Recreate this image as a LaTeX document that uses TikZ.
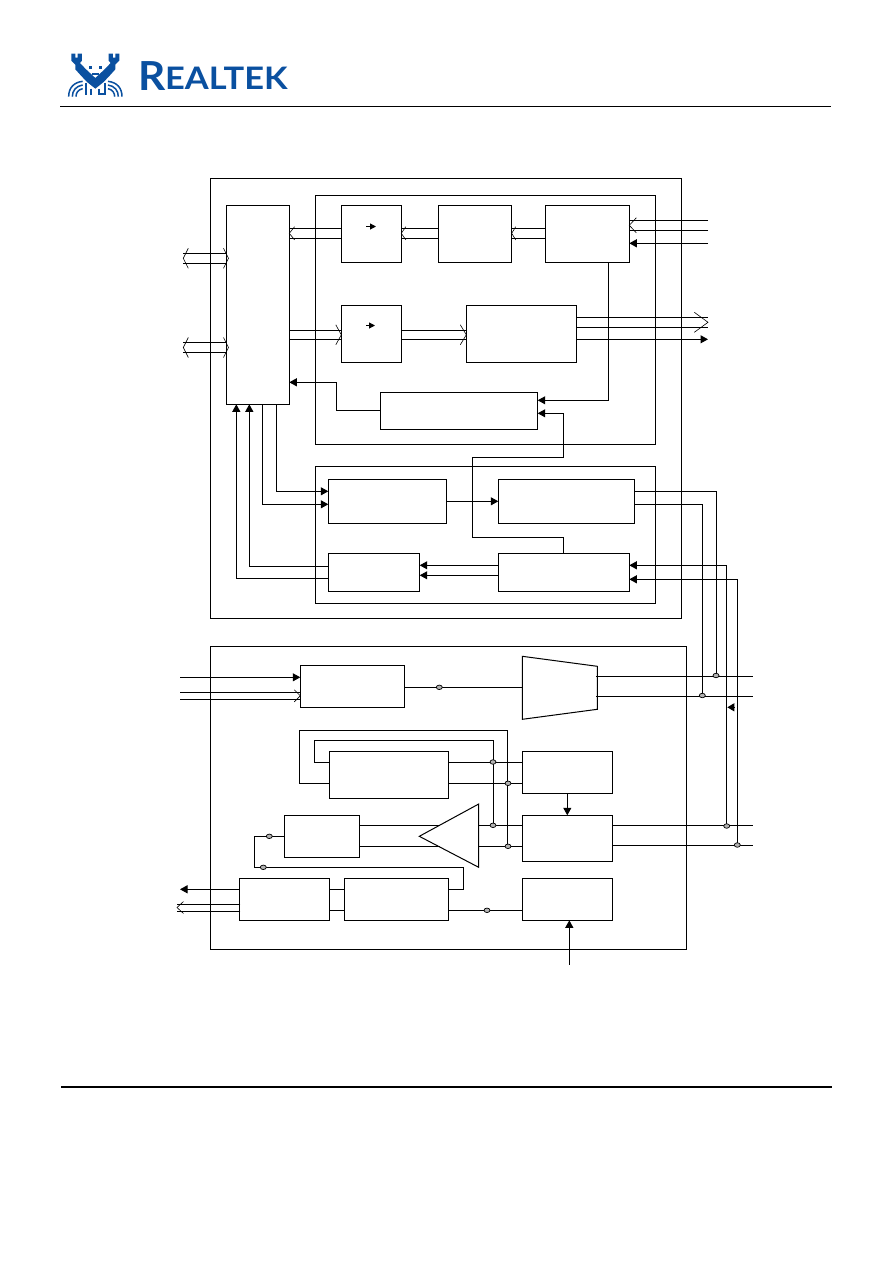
\documentclass[tikz,border=0pt]{standalone}
\usepackage{fontspec}
\setmainfont{Lato}
\usetikzlibrary{arrows.meta,shapes.geometric}
\definecolor{rtblue}{HTML}{0A50A0}
\tikzset{
  x=1pt,y=-1pt,
  blk/.style={draw=black,line width=1pt,inner sep=0,outer sep=0,rectangle},
  wire/.style={draw=black,line width=1pt},
  farrow/.style={wire,-{Triangle[length=7.5pt,width=8pt]}},
  chev/.style={draw=black,line width=.6pt},
  jn/.style={draw=black,line width=.7pt,fill=black!30,ellipse,inner sep=0,outer sep=0,minimum width=6pt,minimum height=4.5pt},
  logo/.style={rtblue,line width=1.5pt},
}
\newcommand\bx[5]{\node[blk,minimum width={(#4-#2)*1pt},minimum height={(#5-#3)*1pt}] (#1) at ({(#2+#4)/2},{(#3+#5)/2}) {};}
\newcommand\chv[4]{\draw[chev] ({#1+#3},{#2-#4}) -- (#1,#2) -- ({#1+#3},{#2+#4});}
\newcommand\jd[3]{\node[jn] (#1) at (#2,#3) {};}
\begin{document}
\begin{tikzpicture}
\fill[white] (0,0) rectangle (892,1263);
\useasboundingbox (0,0) rectangle (892,1263);
% header & footer
\coordinate (hl) at (60,106.5); \coordinate (hr) at (831,106.5);
\draw[black,line width=1pt] (hl) -- (hr);
\coordinate (fl) at (61,1087); \coordinate (fr) at (832,1087);
\draw[black,line width=1.8pt] (fl) -- (fr);
% logo
\begin{scope}[shift={(62,48)},x=.3333pt,y=-.3333pt]
\fill[rtblue] (28,17)--(40,17)--(40,29)--(47,29)--(47,17)--(60,17)--(60,38)--(54,45)--(70,62)--(100,90)--(130,62)--(146,45)--(140,38)--(140,17)--(153,17)--(153,29)--(160,29)--(160,17)--(172,17)--(172,38)--(160,50)--(160,64)--(142,84)--(125,102)--(100,122)--(75,102)--(58,84)--(40,64)--(40,50)--(28,38)--cycle;
\fill[rtblue] (82,54) rectangle (91,63); \fill[rtblue] (110,54) rectangle (119,63);
\draw[rtblue,line width=1.6pt] (90,78)--(110,78);
\draw[rtblue,line width=2.2pt] (72,104)--(72,142) (88,122)--(88,142) (128,104)--(128,142) (112,122)--(112,138)--(127,138);
\draw[logo] (20,146) .. controls (20,120) and (35,103) .. (62,100);
\draw[logo] (31,146) .. controls (31,128) and (42,114) .. (62,111);
\draw[logo] (42,146) .. controls (42,135) and (48,125) .. (62,122);
\draw[logo] (180,146) .. controls (180,120) and (165,103) .. (138,100);
\draw[logo] (169,146) .. controls (169,128) and (158,114) .. (138,111);
\draw[logo] (158,146) .. controls (158,135) and (152,125) .. (138,122);
\end{scope}
\node[anchor=base west,inner sep=0,text=rtblue,font=\fontsize{40}{40}\selectfont\bfseries] (lr) at (138,90.5) {\scalebox{1.06}[1]{R}};
\node[anchor=base west,inner sep=0,text=rtblue,font=\fontsize{31}{31}\selectfont\bfseries] (lt) at (165,89.5) {\scalebox{1.11}[1]{EALTEK}};
% containers
\bx{top}{210.3}{178.3}{681.3}{618.3}
\bx{ia}{315.3}{195.3}{655.3}{444.3}
\bx{ib}{315.3}{466.3}{655.3}{603.3}
\bx{bot}{210.3}{646.3}{686.3}{949.3}
% top blocks
\bx{tall}{226.3}{205.3}{289.3}{404.3}
\bx{b1}{341.3}{205.3}{401.3}{262.3}
\bx{b2}{438.3}{205.3}{511.7}{262.3}
\bx{b3}{545.3}{205.3}{629.3}{262.3}
\bx{b4}{341.3}{305.3}{401.3}{362.3}
\bx{b5}{466.3}{305.3}{576.7}{362.3}
\bx{b6}{380.3}{392.3}{537.7}{429.3}
\bx{b7}{328.3}{479.3}{446.7}{523.3}
\bx{b8}{498.3}{479.3}{634.3}{523.3}
\bx{b9}{328.3}{553.3}{419.7}{591.3}
\bx{b10}{498.3}{553.3}{629.3}{591.3}
% hollow buses, top
\foreach \y in {228.3,238.3}{
  \draw[wire] (tall.east |- 0,\y) -- (b1.west |- 0,\y);
  \draw[wire] (b1.east |- 0,\y) -- (b2.west |- 0,\y);
  \draw[wire] (b2.east |- 0,\y) -- (b3.west |- 0,\y);
}
\chv{289.3}{233.3}{5.3}{6.6}\chv{401.3}{233.3}{4.5}{6.6}\chv{511.7}{233.3}{4}{6.6}
\coordinate (xa) at (183.3,0);
\foreach \y in {253.3,263.3,342.3,352.7}{ \draw[wire] (xa |- 0,\y) -- (tall.west |- 0,\y); }
\chv{183.3}{258.3}{5}{10}\chv{228.5}{258.3}{-5}{10}
\chv{183.3}{347.5}{5}{10}\chv{228.5}{347.5}{-5}{10}
\foreach \y in {330.3,339.3}{
  \draw[wire] (tall.east |- 0,\y) -- (b4.west |- 0,\y);
  \draw[wire] (b4.east |- 0,\y) -- (b5.west |- 0,\y);
}
\chv{341.3}{334.8}{-5.5}{10}\chv{466.3}{334.8}{-6}{10}
% inner small arrows
\coordinate (s1a) at (366,226.5); \coordinate (s1b) at (376,226.5);
\coordinate (s2a) at (366,325.5); \coordinate (s2b) at (375,325.5);
\draw[wire,-{Triangle[length=6pt,width=6pt]}] (s1a) -- (s1b);
\draw[wire,-{Triangle[length=6pt,width=6pt]}] (s2a) -- (s2b);
% b3 inputs
\coordinate (xb) at (708,0);
\foreach \y in {220.3,230.3}{ \draw[wire] (xb |- 0,\y) -- (b3.east |- 0,\y); }
\chv{629.3}{225.3}{7}{7.5}
\draw[farrow] (xb |- 0,243.3) -- (b3.east |- 0,243.3);
% b5 outputs
\foreach \y in {317.3,327.3}{ \draw[wire] (b5.east |- 0,\y) -- (xb |- 0,\y); }
\chv{708}{322.3}{-13.7}{10}
\draw[farrow] (b5.east |- 0,339.3) -- (xb |- 0,339.3);
% control
\draw[farrow] (b6.west |- 0,410.3) -- (336.7,410.3) |- (tall.east |- 0,382.3);
\draw[farrow] (b3.south -| 608.3,0) |- (b6.east |- 0,400.3);
\draw[farrow] (b10.north -| 563.3,0) -- (563.3,537.3) -| (472.3,457.3) -| (563.3,413.3) -- (b6.east |- 0,413.3);
% tall to lower block
\draw[farrow] (b9.west |- 0,578.3) -| (tall.south -| 236.3,0);
\draw[farrow] (b9.west |- 0,566.3) -| (tall.south -| 249.3,0);
\draw[farrow] (tall.south -| 262.3,0) |- (b7.west |- 0,504.3);
\draw[farrow] (tall.south -| 276.3,0) |- (b7.west |- 0,491.3);
\draw[farrow] (b7.east |- 0,501.3) -- (b8.west |- 0,501.3);
\draw[farrow] (b10.west |- 0,565.3) -- (b9.east |- 0,565.3);
\draw[farrow] (b10.west |- 0,575.3) -- (b9.east |- 0,575.3);
% bottom blocks
\bx{ca}{300.3}{665.3}{404.3}{707.3}
\coordinate (mxa) at (522.3,687.3);
\draw[wire] (522.3,656.3) -- (597.3,666.3) -- (597.3,709.3) -- (522.3,719.3) -- cycle;
\bx{cb}{329.3}{751.3}{448.3}{798.3}
\bx{cc}{522.3}{751.3}{612.7}{793.3}
\bx{cd}{522.3}{815.3}{612.7}{861.3}
\bx{ce}{284.3}{815.3}{359.3}{857.3}
\bx{cf}{239.3}{878.3}{329.3}{920.3}
\bx{cg}{344.3}{878.3}{448.3}{920.3}
\bx{ch}{522.3}{878.3}{612.7}{920.3}
\draw[wire] (478.7,804) -- (419.3,836.3) -- (478.7,867.3) -- cycle;
\coordinate (tri1) at (439.5,825.3); \coordinate (tri2) at (439.5,846.3);
\coordinate (trir1) at (478.7,825.3); \coordinate (trir2) at (478.7,846.3);
\coordinate (mxr) at (596,0); \coordinate (xc) at (753,0);
% box A in/out
\coordinate (xd) at (180,0);
\draw[farrow] (xd |- 0,677.3) -- (ca.west |- 0,677.3);
\foreach \y in {692.3,699.3}{ \draw[wire] (xd |- 0,\y) -- (ca.west |- 0,\y); }
\chv{300.3}{695.8}{-6}{6}
\draw[wire] (ca.east |- 0,687.3) -- (mxa);
% mux out
\draw[wire] (mxr |- 0,676.3) -- (xc |- 0,676.3);
\draw[wire] (mxr |- 0,696.3) -- (xc |- 0,696.3);
% right-hand verticals
\draw[wire] (b8.east |- 0,491.3) -| (716.7,675.5);
\draw[wire] (b8.east |- 0,504.3) -| (702.3,695.5);
\draw[farrow] (726.7,826) |- (b10.east |- 0,565.3);
\draw[farrow] (737.3,845) |- (b10.east |- 0,579.3);
\coordinate (ha) at (734,707.3); \coordinate (hb) at (727.3,707.3);
\draw[wire,-{Triangle[length=7pt,width=8pt]}] (ha) -- (hb);
% feedback loops
\draw[wire] (cb.west |- 0,783.3) -- (299.3,783.3) |- (507.6,730.3) -- (507.6,846.3);
\draw[wire] (cb.west |- 0,762.3) -- (314.3,762.3) |- (493.3,740.3) -- (493.3,825.3);
\draw[wire] (cb.east |- 0,762.3) -- (cc.west |- 0,762.3);
\draw[wire] (cb.east |- 0,783.3) -- (cc.west |- 0,783.3);
\draw[farrow] (cc.south -| 567.3,0) -- (cd.north -| 567.3,0);
% D
\draw[wire] (trir1) -- (cd.west |- trir1);
\draw[wire] (trir2) -- (cd.west |- trir2);
\draw[wire] (cd.east |- 0,825.3) -- (xc |- 0,825.3);
\draw[wire] (cd.east |- 0,845.3) -- (xc |- 0,845.3);
\draw[wire] (ce.east |- tri1) -- (tri1);
\draw[wire] (ce.east |- tri2) -- (tri2);
% E loop
\draw[wire] (ce.west |- 0,836.3) -- (254.3,836.3) |- (463.3,867.3) |- (cg.east |- 0,889.3);
% F,G,H
\draw[wire] (cf.east |- 0,889.3) -- (cg.west |- 0,889.3);
\draw[wire] (cf.east |- 0,910.3) -- (cg.west |- 0,910.3);
\draw[wire] (cg.east |- 0,910.3) -- (ch.west |- 0,910.3);
\coordinate (up) at (569.3,964.7);
\draw[farrow] (up) -- (ch.south -| up);
\draw[farrow] (cf.west |- 0,889.3) -- (xd |- 0,889.3);
\coordinate (xe) at (240.3,0); \coordinate (xf) at (177,0);
\foreach \y in {904,911}{ \draw[wire] (xe |- 0,\y) -- (xf |- 0,\y); }
\chv{177}{907.5}{6.5}{6}
% junction dots
\jd{j1}{439.3}{687.3}\jd{j2}{716}{675.5}\jd{j3}{702.3}{695.5}
\jd{j4}{493}{762}\jd{j5}{508}{783.3}\jd{j6}{493}{825.3}\jd{j7}{508}{846.3}
\jd{j8}{726.7}{826}\jd{j9}{737.3}{845}
\jd{j10}{269.3}{836.3}\jd{j11}{263.3}{867.3}\jd{j12}{487}{910.3}
\end{tikzpicture}
\end{document}
